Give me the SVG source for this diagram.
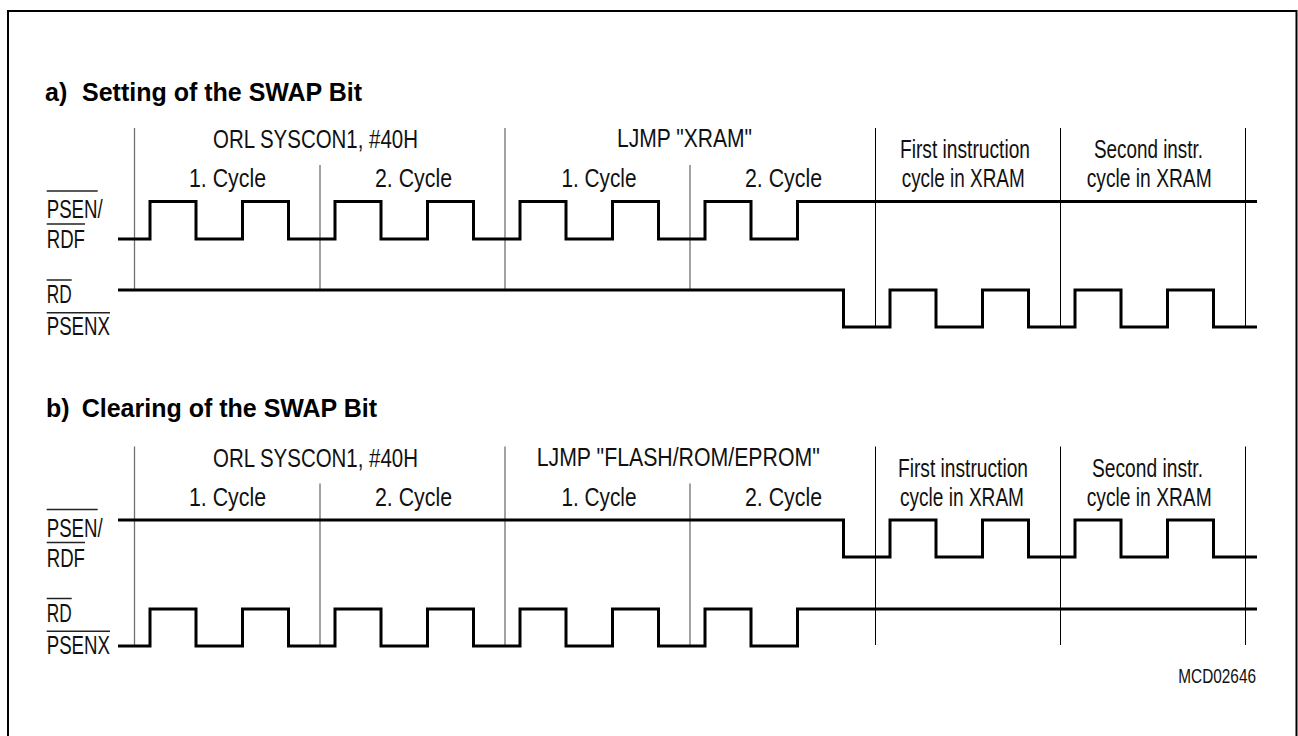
<svg xmlns="http://www.w3.org/2000/svg" width="1298" height="736" viewBox="0 0 1298 736">
<style>
.frame{fill:none;stroke:#000;stroke-width:2}
.title{font-family:"Liberation Sans",Arial,sans-serif;font-weight:bold;font-size:25px;fill:#000}
.lbl{font-family:"Liberation Sans Narrow","Liberation Sans",Arial,sans-serif;font-size:26px;fill:#111}
.sig{font-family:"Liberation Sans Narrow","Liberation Sans",Arial,sans-serif;font-size:25.5px;fill:#111}
.small{font-family:"Liberation Sans Narrow","Liberation Sans",Arial,sans-serif;font-size:20px;fill:#111}
.ov{stroke:#222;stroke-width:1.5}
.gl{stroke:#707070;stroke-width:1.3}
.bl{stroke:#000;stroke-width:1}
.wave{fill:none;stroke:#000;stroke-width:3;stroke-linejoin:miter;stroke-linecap:butt}
</style>
<path class="frame" d="M8,740 V11 H1296.5 V740"/>

<g id="section-a">
  <text class="title" x="45" y="101">a) <tspan x="82">Setting of the SWAP Bit</tspan></text>
  <g id="a-labels">
    <text class="lbl" x="213" y="147.5" textLength="205" lengthAdjust="spacingAndGlyphs">ORL SYSCON1, #40H</text>
    <text class="lbl" x="617" y="147" textLength="135" lengthAdjust="spacingAndGlyphs">LJMP "XRAM"</text>
    <text class="lbl" x="189" y="186.5" textLength="77" lengthAdjust="spacingAndGlyphs">1. Cycle</text>
    <text class="lbl" x="375" y="186.5" textLength="77" lengthAdjust="spacingAndGlyphs">2. Cycle</text>
    <text class="lbl" x="561.5" y="186.5" textLength="75" lengthAdjust="spacingAndGlyphs">1. Cycle</text>
    <text class="lbl" x="745" y="186.5" textLength="77" lengthAdjust="spacingAndGlyphs">2. Cycle</text>
    <text class="lbl" x="900" y="158.3" textLength="130" lengthAdjust="spacingAndGlyphs">First instruction</text>
    <text class="lbl" x="901.7" y="186.7" textLength="123" lengthAdjust="spacingAndGlyphs">cycle in XRAM</text>
    <text class="lbl" x="1094" y="158.3" textLength="109" lengthAdjust="spacingAndGlyphs">Second instr.</text>
    <text class="lbl" x="1086.7" y="186.7" textLength="125" lengthAdjust="spacingAndGlyphs">cycle in XRAM</text>
  </g>
  <g id="a-signal-names">
    <text class="sig" x="46.7" y="218.3" textLength="56" lengthAdjust="spacingAndGlyphs">PSEN/</text>
    <line class="ov" x1="46.7" y1="191" x2="97.7" y2="191"/>
    <text class="sig" x="46.7" y="248.3" textLength="38.3" lengthAdjust="spacingAndGlyphs">RDF</text>
    <line class="ov" x1="46.7" y1="224" x2="85" y2="224"/>
    <text class="sig" x="46.7" y="303.3" textLength="25" lengthAdjust="spacingAndGlyphs">RD</text>
    <line class="ov" x1="46.7" y1="280" x2="71.7" y2="280"/>
    <text class="sig" x="46.7" y="335" textLength="63.3" lengthAdjust="spacingAndGlyphs">PSENX</text>
    <line class="ov" x1="46.7" y1="312.7" x2="110" y2="312.7"/>
  </g>
  <g id="a-gridlines">
    <line class="gl" x1="134.5" y1="128" x2="134.5" y2="290"/>
    <line class="gl" x1="320" y1="165" x2="320" y2="290"/>
    <line class="gl" x1="505" y1="128" x2="505" y2="290"/>
    <line class="gl" x1="690" y1="165" x2="690" y2="290"/>
    <line class="bl" x1="875.5" y1="128" x2="875.5" y2="327"/>
    <line class="bl" x1="1060.5" y1="128" x2="1060.5" y2="327"/>
    <line class="bl" x1="1245.5" y1="128" x2="1245.5" y2="327"/>
  </g>
  <g id="a-waves">
    <path id="a-psen" class="wave" d="M118,239 H150 V201.5 H196 V239 H242.5 V201.5 H288.5 V239 H335 V201.5 H381 V239 H427.5 V201.5 H473.5 V239 H520 V201.5 H566 V239 H612.5 V201.5 H658.5 V239 H705 V201.5 H751 V239 H797.5 V201.5 H1257"/>
    <path id="a-rd" class="wave" d="M118,290 H843.5 V327 H890 V290 H936 V327 H982.5 V290 H1028.5 V327 H1075 V290 H1121 V327 H1167.5 V290 H1213.5 V327 H1257"/>
  </g>
</g>

<g id="section-b">
  <text class="title" x="46" y="417">b) <tspan x="81.7">Clearing of the SWAP Bit</tspan></text>
  <g id="b-labels">
    <text class="lbl" x="213" y="466.5" textLength="205" lengthAdjust="spacingAndGlyphs">ORL SYSCON1, #40H</text>
    <text class="lbl" x="536.7" y="466" textLength="283" lengthAdjust="spacingAndGlyphs">LJMP "FLASH/ROM/EPROM"</text>
    <text class="lbl" x="189" y="505.5" textLength="77" lengthAdjust="spacingAndGlyphs">1. Cycle</text>
    <text class="lbl" x="375" y="505.5" textLength="77" lengthAdjust="spacingAndGlyphs">2. Cycle</text>
    <text class="lbl" x="561.5" y="505.5" textLength="75" lengthAdjust="spacingAndGlyphs">1. Cycle</text>
    <text class="lbl" x="745" y="505.5" textLength="77" lengthAdjust="spacingAndGlyphs">2. Cycle</text>
    <text class="lbl" x="898" y="477.3" textLength="130" lengthAdjust="spacingAndGlyphs">First instruction</text>
    <text class="lbl" x="900" y="505.7" textLength="124" lengthAdjust="spacingAndGlyphs">cycle in XRAM</text>
    <text class="lbl" x="1092" y="477.3" textLength="111" lengthAdjust="spacingAndGlyphs">Second instr.</text>
    <text class="lbl" x="1086.7" y="505.7" textLength="125" lengthAdjust="spacingAndGlyphs">cycle in XRAM</text>
  </g>
  <g id="b-signal-names">
    <text class="sig" x="46.7" y="536.8" textLength="56" lengthAdjust="spacingAndGlyphs">PSEN/</text>
    <line class="ov" x1="46.7" y1="509.5" x2="97.7" y2="509.5"/>
    <text class="sig" x="46.7" y="566.8" textLength="38.3" lengthAdjust="spacingAndGlyphs">RDF</text>
    <line class="ov" x1="46.7" y1="542.5" x2="85" y2="542.5"/>
    <text class="sig" x="46.7" y="621.8" textLength="25" lengthAdjust="spacingAndGlyphs">RD</text>
    <line class="ov" x1="46.7" y1="598.5" x2="71.7" y2="598.5"/>
    <text class="sig" x="46.7" y="653.8" textLength="63.3" lengthAdjust="spacingAndGlyphs">PSENX</text>
    <line class="ov" x1="46.7" y1="631.2" x2="110" y2="631.2"/>
  </g>
  <g id="b-gridlines">
    <line class="gl" x1="134.5" y1="446.5" x2="134.5" y2="645"/>
    <line class="gl" x1="320" y1="483.5" x2="320" y2="645"/>
    <line class="gl" x1="505" y1="446.5" x2="505" y2="645"/>
    <line class="gl" x1="690" y1="483.5" x2="690" y2="645"/>
    <line class="bl" x1="875.5" y1="446.5" x2="875.5" y2="645"/>
    <line class="bl" x1="1060.5" y1="446.5" x2="1060.5" y2="645"/>
    <line class="bl" x1="1245.5" y1="446.5" x2="1245.5" y2="645"/>
  </g>
  <g id="b-waves">
    <path id="b-psen" class="wave" d="M118,520 H843.5 V557 H890 V520 H936 V557 H982.5 V520 H1028.5 V557 H1075 V520 H1121 V557 H1167.5 V520 H1213.5 V557 H1257"/>
    <path id="b-rd" class="wave" d="M118,646 H150 V609 H196 V646 H242.5 V609 H288.5 V646 H335 V609 H381 V646 H427.5 V609 H473.5 V646 H520 V609 H566 V646 H612.5 V609 H658.5 V646 H705 V609 H751 V646 H797.5 V609 H1257"/>
  </g>
</g>

<text id="doc-id" class="small" x="1178.3" y="683.3" textLength="77.7" lengthAdjust="spacingAndGlyphs">MCD02646</text>
</svg>
